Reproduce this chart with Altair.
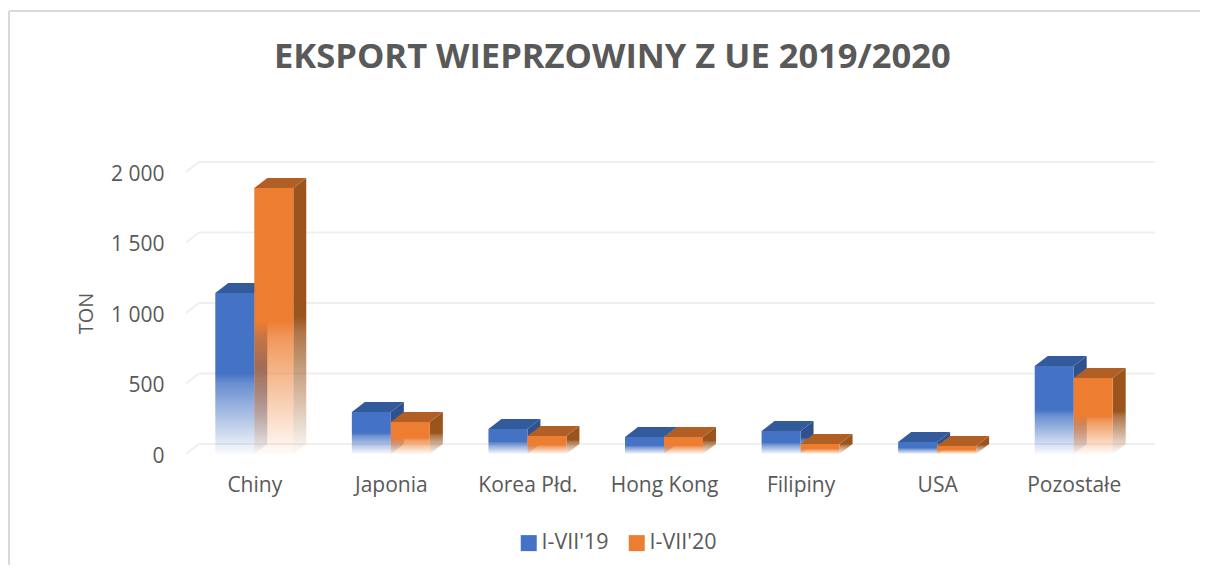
import json
import altair as alt
import pandas as pd

categories = ["Chiny", "Japonia", "Korea Płd.", "Hong Kong", "Filipiny", "USA", "Pozostałe"]
series = ["I-VII'19", "I-VII'20"]
values_19 = [1142, 298, 177, 120, 163, 85, 624]
values_20 = [1886, 227, 128, 120, 71, 57, 539]
y_ticks = [0, 500, 1000, 1500, 2000]

FRONT = ["#4472C4", "#ED7D31"]
TOP = ["#335A9B", "#B25F25"]
SIDE = ["#2F528F", "#9A541C"]
TEXT = "#595959"
GRID = "#EFEFEF"

BAR_W = 39 / 136.6
DX = 13 / 136.6
DY = 10 / 0.141

xs = alt.Scale(domain=[0, 7])
ys = alt.Scale(domain=[0, 2000])
label_js = json.dumps(categories, ensure_ascii=False)
x_axis = alt.Axis(
    values=[i + 0.5 for i in range(7)],
    labelExpr=f"{label_js}[floor(datum.value)]",
    grid=False, domain=False, ticks=False, title=None,
    labelFont="Open Sans", labelFontSize=21, labelColor=TEXT,
    labelPadding=20, labelAngle=0,
)
y_axis = alt.Axis(
    values=y_ticks,
    labelExpr="replace(format(datum.value, ','), ',', ' ')",
    grid=False, domain=False, ticks=False,
    title="TON", titleFont="Open Sans", titleFontSize=20,
    titleFontWeight="normal", titleColor=TEXT, titleX=-90, titleY=141,
    labelFont="Open Sans", labelFontSize=21, labelColor=TEXT, labelPadding=22,
    labelOffset=2,
)
X = lambda: alt.X("x:Q", scale=xs, axis=x_axis)
Y = lambda: alt.Y("y:Q", scale=ys, axis=y_axis)


def fade(color):
    r, g, b = int(color[1:3], 16), int(color[3:5], 16), int(color[5:7], 16)
    return alt.Gradient(
        gradient="linear", x1=0, y1=0, x2=0, y2=1,
        stops=[
            alt.GradientStop(offset=0, color=color),
            alt.GradientStop(offset=0.5, color=color),
            alt.GradientStop(offset=0.56, color=f"rgba({r},{g},{b},0.8)"),
            alt.GradientStop(offset=1, color=f"rgba({r},{g},{b},0.03)"),
        ],
    )


def series_layers(k, vals):
    front, top, side = [], [], []
    for i, v in enumerate(vals):
        x1 = i + 0.5 - BAR_W if k == 0 else i + 0.5
        x2 = x1 + BAR_W
        front.append({"c": i, "x": x1, "x2": x2, "y": v, "y2": 0})
        side += [
            {"c": i, "x": x2, "y": v, "y2": 0},
            {"c": i, "x": x2 + DX, "y": v + DY, "y2": DY},
        ]
        top += [
            {"c": i, "x": x1, "y": v, "y2": v},
            {"c": i, "x": x1 + DX, "y": v + DY, "y2": v},
            {"c": i, "x": x2, "y": v + DY, "y2": v},
            {"c": i, "x": x2 + DX, "y": v + DY, "y2": v + DY},
        ]
    side_l = alt.Chart(pd.DataFrame(side)).mark_area(
        fill=fade(SIDE[k]), interpolate="linear"
    ).encode(x=X(), y=Y(), y2="y2:Q", detail="c:N")
    top_l = alt.Chart(pd.DataFrame(top)).mark_area(
        color=TOP[k], interpolate="linear"
    ).encode(x=X(), y=Y(), y2="y2:Q", detail="c:N")
    front_l = alt.Chart(pd.DataFrame(front)).mark_rect(
        fill=fade(FRONT[k])
    ).encode(x=X(), x2="x2:Q", y=Y(), y2="y2:Q")
    return [side_l, top_l, front_l]


grid_rows = pd.DataFrame({"x": [DX] * 5, "x2": [7 + DX] * 5, "y": [t + DY for t in y_ticks]})
axes = alt.Chart(grid_rows).mark_rule(color=GRID, strokeWidth=2).encode(
    x=X(), x2="x2:Q", y=Y()
)

diag_rows = pd.DataFrame({"x": [0] * 5, "x2": [DX] * 5, "y": y_ticks, "y2": [t + DY for t in y_ticks]})
diag = alt.Chart(diag_rows).mark_rule(color=GRID, strokeWidth=2).encode(
    x=X(), x2="x2:Q", y=Y(), y2="y2:Q"
)

legend_layer = alt.Chart(pd.DataFrame({"s": series})).mark_rect().encode(
    x=alt.value(0), x2=alt.value(0), y=alt.value(0), y2=alt.value(0),
    color=alt.Color(
        "s:N",
        scale=alt.Scale(domain=series, range=FRONT),
        legend=alt.Legend(
            orient="none", legendX=332, legendY=360, direction="horizontal",
            title=None, symbolType="square", symbolSize=256, symbolStrokeWidth=0,
            labelFont="Open Sans", labelFontSize=21.5, labelColor=TEXT,
            labelOffset=2, columnPadding=17, columns=2,
        ),
    ),
)

white_fade = alt.Gradient(
    gradient="linear", x1=0, y1=0, x2=0, y2=1,
    stops=[
        alt.GradientStop(offset=0, color="rgba(255,255,255,0)"),
        alt.GradientStop(offset=1, color="rgba(255,255,255,0.95)"),
    ],
)
legend_fades = [
    alt.Chart(pd.DataFrame({"a": [0]})).mark_rect(fill=white_fade).encode(
        x=alt.value(x0), x2=alt.value(x0 + 18), y=alt.value(370), y2=alt.value(381)
    )
    for x0 in (334, 441)
]

frame_h = alt.Chart(pd.DataFrame({"a": [0]})).mark_rule(color="#D9D9D9", strokeWidth=2).encode(
    x=alt.value(-177), x2=alt.value(1022), y=alt.value(-161)
)
frame_v = alt.Chart(pd.DataFrame({"a": [0]})).mark_rule(color="#D9D9D9", strokeWidth=2).encode(
    x=alt.value(-177), y=alt.value(-161), y2=alt.value(402)
)

layers = [frame_h, frame_v, axes, diag, legend_layer]
layers += series_layers(0, values_19)
layers += series_layers(1, values_20)
layers += legend_fades

chart = alt.layer(*layers).properties(
    width=956,
    height=282,
    padding={"left": 178, "top": 164, "right": 58, "bottom": 111},
    autosize=alt.AutoSizeParams(type="none"),
    title=alt.TitleParams(
        "EKSPORT WIEPRZOWINY Z UE 2019/2020",
        font="Open Sans", fontSize=34.5, fontWeight=700, color=TEXT,
        anchor="start", frame="group", dx=88, dy=96, baseline="alphabetic",
        limit=0,
    ),
).configure_view(stroke=None)

chart.save("out.html", embed_options={"renderer": "svg", "actions": False})
